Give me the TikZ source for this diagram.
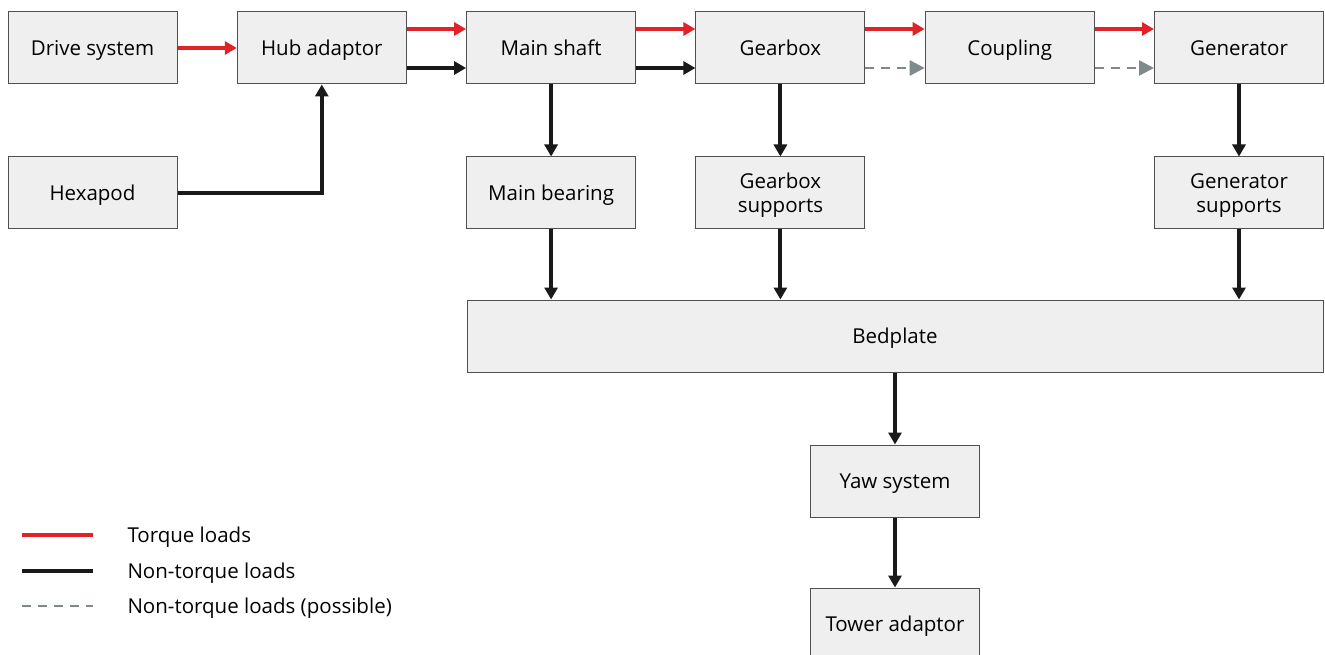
\documentclass[tikz,border=0pt]{standalone}
\usepackage{fontspec}
\setmainfont{Open Sans}
\usetikzlibrary{arrows.meta, positioning}
\definecolor{boxfill}{HTML}{EEEFEE}
\definecolor{boxline}{HTML}{505050}
\definecolor{torquered}{HTML}{DF2328}
\definecolor{possiblegray}{HTML}{7F8A8A}
\tikzstyle{block} = [rectangle, minimum width=169pt, minimum height=72pt, text centered, align=center, draw=boxline, line width=1pt, fill=boxfill, font=\fontsize{20.5}{24}\selectfont]
\tikzstyle{oneline} = [text height=14.7pt, text depth=0pt]
\tikzstyle{twoline} = [text depth=0pt]
\tikzstyle{legendtext} = [anchor=west, text height=14.7pt, text depth=0pt, font=\fontsize{20.5}{24}\selectfont]
\tikzstyle{torque} = [line width=4pt, draw=torquered, -{Triangle[length=12pt,width=13pt]}]
\tikzstyle{nontorque} = [line width=4pt, draw=black!90, -{Triangle[length=12pt,width=13pt]}]
\tikzstyle{possible} = [line width=2.5pt, draw=possiblegray, dash pattern=on 9pt off 7pt, -{Triangle[length=15pt,width=15pt]}]

\begin{document}
\begin{tikzpicture}[x=1pt, y=1pt, node distance=229.3pt]
    \useasboundingbox (0,0) rectangle (1325,-655);
    %top row
    \node (drive) [block, oneline] at (92.5,-48) {Drive system};
    \node (hub) [block, oneline, right of=drive] {Hub adaptor};
    \node (shaft) [block, oneline, right of=hub] {Main shaft};
    \node (gearbox) [block, oneline, right of=shaft] {Gearbox};
    \node (coupling) [block, oneline, right of=gearbox] {Coupling};
    \node (generator) [block, oneline, right of=coupling] {Generator};
    %second row
    \node (hexapod) [block, oneline, below of=drive, node distance=145pt] {Hexapod};
    \node (bearing) [block, oneline, below of=shaft, node distance=145pt] {Main bearing};
    \node (gbsupport) [block, twoline, below of=gearbox, node distance=145pt] {Gearbox\\supports};
    \node (gensupport) [block, twoline, below of=generator, node distance=145pt] {Generator\\supports};
    %bedplate and tower side
    \node (bedplate) [block, oneline, minimum width=856pt] at (895,-336) {Bedplate};
    \node (yaw) [block, oneline, below of=bedplate, node distance=145pt] {Yaw system};
    \node (tower) [block, oneline, below of=yaw, node distance=143pt] {Tower adaptor};

    %torque path
    \draw [torque] (drive) -- (hub);
    \draw [torque] ([yshift=19pt]hub.east) -- ([yshift=19pt]shaft.west);
    \draw [torque] ([yshift=19pt]shaft.east) -- ([yshift=19pt]gearbox.west);
    \draw [torque] ([yshift=19pt]gearbox.east) -- ([yshift=19pt]coupling.west);
    \draw [torque] ([yshift=19pt]coupling.east) -- ([yshift=19pt]generator.west);
    %non-torque path
    \draw [nontorque] ([yshift=-20pt]hub.east) -- ([yshift=-20pt]shaft.west);
    \draw [nontorque] ([yshift=-20pt]shaft.east) -- ([yshift=-20pt]gearbox.west);
    \draw [possible] ([yshift=-20pt]gearbox.east) -- ([yshift=-20pt]coupling.west);
    \draw [possible] ([yshift=-20pt]coupling.east) -- ([yshift=-20pt]generator.west);
    \draw [nontorque] (hexapod.east) -| (hub.south);
    \draw [nontorque] (shaft) -- (bearing);
    \draw [nontorque] (gearbox) -- (gbsupport);
    \draw [nontorque] (generator) -- (gensupport);
    \draw [nontorque] (bearing) -- (bearing |- bedplate.north);
    \draw [nontorque] (gbsupport) -- (gbsupport |- bedplate.north);
    \draw [nontorque] (gensupport) -- (gensupport |- bedplate.north);
    \draw [nontorque] (bedplate.south -| yaw) -- (yaw);
    \draw [nontorque] (yaw) -- (tower);

    %legend
    \node (lgtorque) [legendtext] at (124,-535) {Torque loads};
    \node (lgnontorque) [legendtext] at (124,-571) {Non-torque loads};
    \node (lgpossible) [legendtext] at (124,-606) {Non-torque loads (possible)};
    \draw [line width=4pt, torquered] (22,-535) -- (93,-535);
    \draw [line width=4pt, black!90] (22,-571) -- (93,-571);
    \draw [line width=2.5pt, possiblegray, dash pattern=on 9pt off 7pt] (22,-606) -- (93,-606);
\end{tikzpicture}
\end{document}
